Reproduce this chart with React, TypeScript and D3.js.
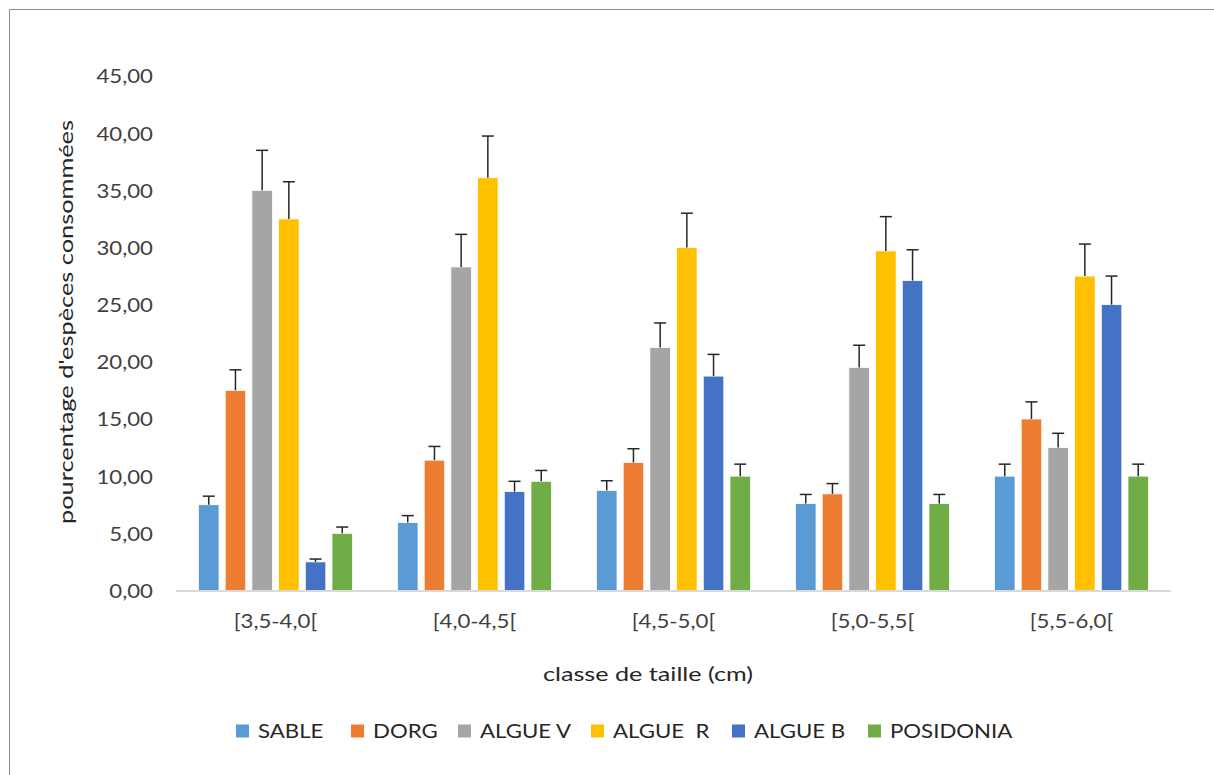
import React from "react";
import * as d3 from "d3";

const categories = ["[3,5-4,0[", "[4,0-4,5[", "[4,5-5,0[", "[5,0-5,5[", "[5,5-6,0["];
const seriesNames = ["SABLE", "DORG", "ALGUE V", "ALGUE  R", "ALGUE B", "POSIDONIA"];
const seriesColors = ["#5B9BD5", "#ED7D31", "#A5A5A5", "#FFC000", "#4472C4", "#70AD47"];

const sable = [7.5, 5.95, 8.75, 7.6, 10.0];
const dorg = [17.5, 11.4, 11.2, 8.45, 15.0];
const algueV = [35.0, 28.3, 21.25, 19.5, 12.5];
const algueR = [32.5, 36.1, 30.0, 29.7, 27.5];
const algueB = [2.5, 8.65, 18.75, 27.1, 25.0];
const posidonia = [5.0, 9.55, 10.0, 7.6, 10.0];

const sableErr = [0.75, 0.6, 0.85, 0.8, 1.05];
const dorgErr = [1.8, 1.2, 1.2, 0.9, 1.5];
const algueVErr = [3.5, 2.85, 2.15, 1.95, 1.25];
const algueRErr = [3.25, 3.65, 3.0, 3.0, 2.8];
const algueBErr = [0.25, 0.9, 1.9, 2.7, 2.5];
const posidoniaErr = [0.55, 0.95, 1.05, 0.8, 1.05];

const yTicks = [0, 5, 10, 15, 20, 25, 30, 35, 40, 45];

const seriesValues = [sable, dorg, algueV, algueR, algueB, posidonia];
const seriesErrors = [sableErr, dorgErr, algueVErr, algueRErr, algueBErr, posidoniaErr];

const W = 1214;
const H = 775;
const plotLeft = 176;
const plotRight = 1171;
const plotBottom = 590.5;
const plotTop = 76;

const FONT = "Lato, 'Open Sans', sans-serif";
const SX = 1.17;

const legendTextX = [258, 373, 480, 613, 754, 890];

function SText(props: { x: number; y: number; anchor?: string; size?: number; fill?: string; children: any }) {
  const { x, y, anchor = "start", size = 19, fill = "#404040", children } = props;
  return (
    <g transform={`translate(${x},${y}) scale(${SX},1)`}>
      <text x={0} y={0} textAnchor={anchor} dominantBaseline="central" fontFamily={FONT} fontSize={size} fill={fill}>
        {children}
      </text>
    </g>
  );
}

export default function App() {
  const x0 = d3.scaleBand<string>().domain(categories).range([plotLeft, plotRight]).paddingInner(0).paddingOuter(0);
  const x1 = d3
    .scaleBand<string>()
    .domain(seriesNames)
    .range([0, x0.bandwidth()])
    .paddingInner(0.232)
    .paddingOuter(0.843);
  const y = d3.scaleLinear().domain([0, 45]).range([plotBottom, plotTop]);
  const fmt = (v: number) => v.toFixed(2).replace(".", ",");
  const capW = 12;

  return (
    <svg width={W} height={H} style={{ position: "absolute", left: 0, top: 0, background: "#fff" }}>
      <rect x={0} y={0} width={W} height={H} fill="#fff" />
      <rect x={9.5} y={9.5} width={W + 20} height={H + 20} fill="none" stroke="#8c8c8c" strokeWidth={1} />

      {/* y tick labels */}
      {yTicks.map((t) => (
        <SText key={t} x={153} y={y(t)} anchor="end">
          {fmt(t)}
        </SText>
      ))}

      {/* bars */}
      {seriesNames.map((s, si) => (
        <g key={s}>
          {categories.map((c, ci) => {
            const v = seriesValues[si][ci];
            const bx = (x0(c) as number) + (x1(s) as number);
            return (
              <rect
                key={c}
                x={bx}
                y={y(v)}
                width={x1.bandwidth()}
                height={plotBottom - y(v)}
                fill={seriesColors[si]}
                stroke="#ffffff"
                strokeWidth={0.75}
              />
            );
          })}
        </g>
      ))}

      {/* error bars */}
      {seriesNames.map((s, si) => (
        <g key={s + "-err"} stroke="#262626" strokeWidth={1.5}>
          {categories.map((c, ci) => {
            const v = seriesValues[si][ci];
            const e = seriesErrors[si][ci];
            const cx = (x0(c) as number) + (x1(s) as number) + x1.bandwidth() / 2;
            return (
              <g key={c}>
                <line x1={cx} x2={cx} y1={y(v)} y2={y(v + e)} />
                <line x1={cx - capW / 2} x2={cx + capW / 2} y1={y(v + e)} y2={y(v + e)} />
              </g>
            );
          })}
        </g>
      ))}

      {/* x axis line */}
      <line x1={plotLeft} x2={plotRight} y1={plotBottom + 0.5} y2={plotBottom + 0.5} stroke="#D9D9D9" strokeWidth={2} />

      {/* x tick labels */}
      {categories.map((c) => (
        <SText key={c} x={(x0(c) as number) + x0.bandwidth() / 2} y={621} anchor="middle">
          {c}
        </SText>
      ))}

      {/* axis titles */}
      <text
        x={648}
        y={673}
        textAnchor="middle"
        dominantBaseline="central"
        fontFamily={FONT}
        fontSize={19}
        fill="#262626"
        textLength={210}
        lengthAdjust="spacingAndGlyphs"
      >
        classe de taille (cm)
      </text>
      <text
        transform={`translate(65,322) rotate(-90)`}
        x={0}
        y={0}
        textAnchor="middle"
        dominantBaseline="central"
        fontFamily={FONT}
        fontSize={19}
        fill="#262626"
        textLength={404}
        lengthAdjust="spacingAndGlyphs"
      >
        pourcentage d'espèces consommées
      </text>

      {/* legend */}
      {seriesNames.map((s, si) => (
        <g key={s + "-leg"}>
          <rect x={legendTextX[si] - 22} y={731 - 6.5} width={13} height={13} fill={seriesColors[si]} />
          <SText x={legendTextX[si]} y={731} fill="#262626">
            <tspan style={{ whiteSpace: "pre" }}>{s}</tspan>
          </SText>
        </g>
      ))}
    </svg>
  );
}
